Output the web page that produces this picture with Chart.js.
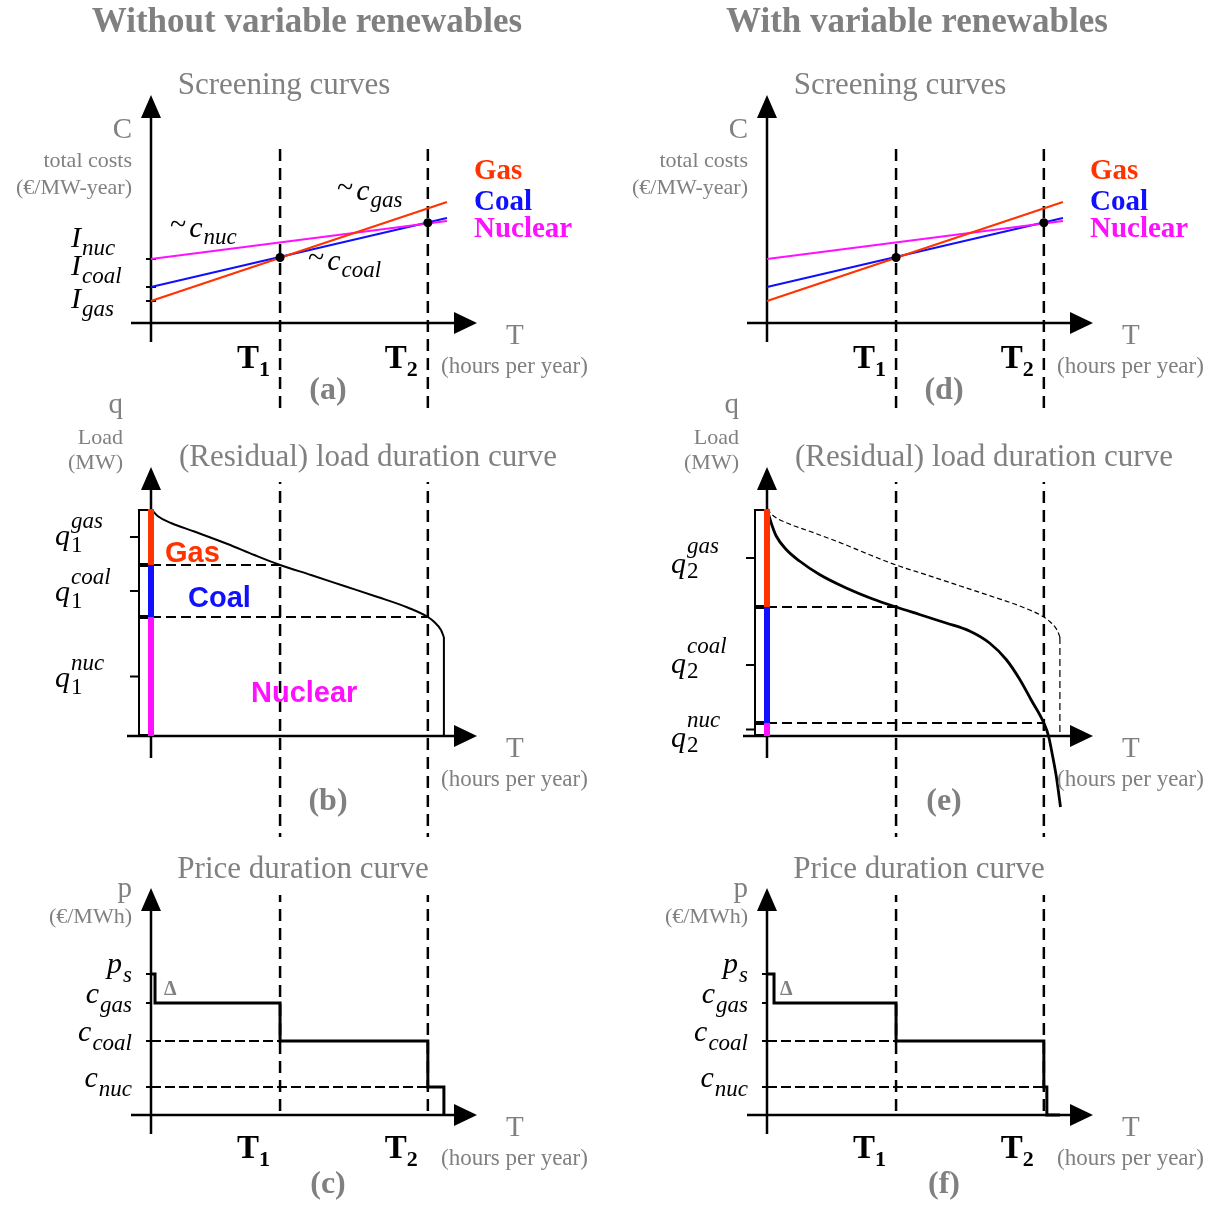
<!DOCTYPE html>
<html>
<head>
<meta charset="utf-8">
<title>Screening curves, load and price duration curves</title>
<script src="https://cdn.jsdelivr.net/npm/chart.js@4.4.1/dist/chart.umd.min.js"></script>
<style>
  html, body { margin: 0; padding: 0; background: #fff; }
  #page { position: relative; width: 1216px; height: 1205px; overflow: hidden; }
  #page canvas { position: absolute; top: 0; }
</style>
</head>
<body>
<div id="page">
  <canvas id="a" width="600" height="1205" style="left:0"></canvas>
  <canvas id="b" width="600" height="1205" style="left:0"></canvas>
  <canvas id="c" width="600" height="1205" style="left:0"></canvas>
  <canvas id="d" width="600" height="1205" style="left:616px"></canvas>
  <canvas id="e" width="600" height="1205" style="left:616px"></canvas>
  <canvas id="f" width="600" height="1205" style="left:616px"></canvas>
</div>
<script>
const T1 = 3860;
const T2 = 8280;
const YEAR = 8760;
const T_AXIS_MAX = 9750;

// screening curves (total cost at the two ends of each line)
const screenT = [0, 8850];
const costGas = [22, 121];
const costCoal = [36, 105];
const costNuc = [64, 102];
const crossT = [3860, 8280];
const crossCost = [65.5, 100.2];

// load duration curve, no renewables
const loadT = [0, 197, 598, 1295, 2291, 3089, 3860, 4785, 5781, 6777, 7674, 8280, 8473, 8673, 8760];
const load = [227, 220, 213, 204.5, 192, 181, 171, 161, 150, 139, 128.5, 119, 114, 106, 99];
const loadSplit1 = [171, 119];

// residual load duration curve, with renewables
const resT = [0, 156, 275, 574, 972, 1570, 2369, 3164, 3860, 4561, 5359, 6056, 6655, 7154, 7552, 7902, 8280, 8420, 8530, 8660, 8778];
const resLoad = [227, 210, 200, 186.5, 175, 161.5, 148, 137, 129, 121.5, 113, 105, 93, 76.5, 57, 36, 13, 0, -18, -42, -71];
const loadSplit2 = [129, 13];

// price duration curves: p_s, c_gas, c_coal, c_nuc
const priceLevels = [141, 112, 74, 28];
const priceT1 = [0, 120, T1, T2, YEAR];
const price1 = [141, 112, 74, 28, 0];
const priceT2 = [0, 210, T1, T2, 8370, YEAR];
const price2 = [141, 112, 74, 28, 0, 0];

const GRAY = '#808080';
const SERIF = '"Liberation Serif", "Times New Roman", serif';
const SANS = '"Liberation Sans", Arial, sans-serif';
const RED = '#ff3300', BLUE = '#1010ff', MAGENTA = '#ff10ff';

function pts(xs, ys) { return xs.map((x, i) => ({ x: x, y: ys[i] })); }

function line(data, color, width, extra) {
    return Object.assign({
        data: data, borderColor: color, borderWidth: width, pointRadius: 0,
        fill: false, tension: 0, clip: false, borderCapStyle: 'butt'
    }, extra || {});
}

function text(ctx, s, x, y, font, color, align) {
    ctx.font = font;
    ctx.fillStyle = color;
    ctx.textAlign = align || 'left';
    ctx.textBaseline = 'alphabetic';
    ctx.fillText(s, x, y);
}

// symbol with sub/superscript, e.g. q_1^gas
function symbol(ctx, m, x, y, align) {
    const baseFont = 'italic 30px ' + SERIF;
    const small = s => (/^\d+$/.test(s) ? '' : 'italic ') + '23px ' + SERIF;
    ctx.font = '30px ' + SERIF;
    const preW = m.pre ? ctx.measureText(m.pre).width + 3 : 0;
    ctx.font = baseFont;
    const baseW = ctx.measureText(m.base).width + 1;
    let idxW = 0;
    [m.sub, m.sup].forEach(s => {
        if (s) { ctx.font = small(s); idxW = Math.max(idxW, ctx.measureText(s).width); }
    });
    const x0 = align === 'right' ? x - preW - baseW - idxW : x;
    ctx.fillStyle = '#000';
    ctx.textAlign = 'left';
    ctx.textBaseline = 'alphabetic';
    if (m.pre) { ctx.font = '30px ' + SERIF; ctx.fillText(m.pre, x0, y - 3); }
    ctx.font = baseFont;
    ctx.fillText(m.base, x0 + preW, y);
    if (m.sub) { ctx.font = small(m.sub); ctx.fillText(m.sub, x0 + preW + baseW, y + (m.subDy || 8)); }
    if (m.sup) { ctx.font = small(m.sup); ctx.fillText(m.sup, x0 + preW + baseW, y - (m.supDy || 17)); }
}

function origin(chart) {
    return { ox: chart.scales.x.getPixelForValue(0), oy: chart.scales.y.getPixelForValue(0) };
}

function drawAxes(chart, yExt, xExt) {
    const { ctx, chartArea: a } = chart;
    const { ox, oy } = origin(chart);
    ctx.save();
    ctx.strokeStyle = '#000';
    ctx.fillStyle = '#000';
    ctx.lineWidth = 2.5;
    ctx.beginPath();
    ctx.moveTo(ox, oy + yExt); ctx.lineTo(ox, a.top + 20);
    ctx.moveTo(ox - xExt, oy); ctx.lineTo(a.right - 20, oy);
    ctx.stroke();
    ctx.beginPath();
    ctx.moveTo(ox, a.top); ctx.lineTo(ox - 10, a.top + 23); ctx.lineTo(ox + 10, a.top + 23); ctx.closePath();
    ctx.moveTo(a.right, oy); ctx.lineTo(a.right - 23, oy - 11); ctx.lineTo(a.right - 23, oy + 11); ctx.closePath();
    ctx.fill();
    ctx.restore();
}

function yTicks(chart, values, x0, x1) {
    const { ctx, scales: { y } } = chart;
    const { ox } = origin(chart);
    ctx.save();
    ctx.strokeStyle = '#000';
    ctx.lineWidth = 2;
    ctx.beginPath();
    values.forEach(v => {
        const py = y.getPixelForValue(v);
        ctx.moveTo(ox + x0, py); ctx.lineTo(ox + x1, py);
    });
    ctx.stroke();
    ctx.restore();
}

// dashed verticals at T1 and T2 running through all three panels
function tLines(chart) {
    const { ctx, scales: { x } } = chart;
    ctx.save();
    ctx.strokeStyle = '#000';
    ctx.lineWidth = 2.5;
    ctx.setLineDash([12, 7]);
    [T1, T2].forEach(t => {
        const px = x.getPixelForValue(t);
        ctx.beginPath(); ctx.moveTo(px, 149); ctx.lineTo(px, 1115); ctx.stroke();
    });
    ctx.restore();
}

function tLabels(chart, dy) {
    const { ctx, scales: { x } } = chart;
    const { oy } = origin(chart);
    [['T', '1', T1], ['T', '2', T2]].forEach(([b, s, t]) => {
        const right = x.getPixelForValue(t) - 10;
        ctx.font = 'bold 22px ' + SERIF;
        const sw = ctx.measureText(s).width;
        ctx.font = 'bold 33px ' + SERIF;
        const bw = ctx.measureText(b).width;
        text(ctx, b, right - sw - bw, oy + dy, 'bold 33px ' + SERIF, '#000');
        text(ctx, s, right - sw, oy + dy + 8, 'bold 22px ' + SERIF, '#000');
    });
}

function axisTexts(chart, o) {
    const { ctx } = chart;
    const { ox, oy } = origin(chart);
    text(ctx, 'T', ox + 355, oy + 21, '29px ' + SERIF, GRAY);
    text(ctx, '(hours per year)', ox + 290, oy + 50, '23px ' + SERIF, GRAY);
    text(ctx, o.letter, ox + 177, oy + o.letterDy, 'bold 32px ' + SERIF, GRAY, 'center');
    text(ctx, o.qty, ox + o.qtyDx, oy + o.qtyDy, '29px ' + SERIF, GRAY, 'right');
    o.units.forEach((u, i) => text(ctx, u, ox + o.qtyDx, oy + o.unitDy[i], '22px ' + SERIF, GRAY, 'right'));
    ctx.font = '31px ' + SERIF;
    const w = ctx.measureText(o.title).width;
    if (o.titleBg) {
        ctx.fillStyle = '#fff';
        ctx.fillRect(ox + o.titleDx - w / 2 - 5, oy + o.titleBg[0], w + 10, o.titleBg[1] - o.titleBg[0]);
    }
    text(ctx, o.title, ox + o.titleDx, oy + o.titleDy, '31px ' + SERIF, GRAY, 'center');
}

function brackets(chart, segs, tickX) {
    const { ctx, scales: { y } } = chart;
    const { ox } = origin(chart);
    const mids = [];
    ctx.save();
    ctx.strokeStyle = '#000';
    ctx.lineWidth = 2;
    segs.forEach(([hi, lo]) => {
        const top = y.getPixelForValue(hi) + 1, bot = y.getPixelForValue(lo) - 1;
        const mid = (top + bot) / 2;
        ctx.beginPath();
        ctx.moveTo(ox - 3, top); ctx.lineTo(ox - 12, top); ctx.lineTo(ox - 12, bot); ctx.lineTo(ox - 3, bot);
        ctx.moveTo(ox - 12, mid); ctx.lineTo(ox + tickX, mid);
        ctx.stroke();
        mids.push(mid);
    });
    ctx.restore();
    return mids;
}

function makeChart(id, yMin, yMax, pad, datasets, before, after) {
    return new Chart(document.getElementById(id), {
        type: 'line',
        data: { datasets: datasets },
        options: {
            responsive: false,
            animation: false,
            events: [],
            layout: { padding: pad },
            plugins: { legend: { display: false }, tooltip: { enabled: false } },
            scales: {
                x: { type: 'linear', display: false, min: 0, max: T_AXIS_MAX },
                y: { type: 'linear', display: false, min: yMin, max: yMax }
            }
        },
        plugins: [{ id: 'decor', beforeDatasetsDraw: before, afterDatasetsDraw: after }]
    });
}

// ---------- screening curves ----------
function screening(id, letter, withLabels) {
    const datasets = [
        { data: pts(crossT, crossCost), showLine: false, pointRadius: 4.5, pointBackgroundColor: '#000',
          pointBorderWidth: 0, clip: false },
        line(pts(screenT, costGas), RED, 2.2),
        line(pts(screenT, costNuc), MAGENTA, 2.2),
        line(pts(screenT, costCoal), BLUE, 2.2)
    ];
    makeChart(id, 0, 228, { left: 151, right: 123, top: 95, bottom: 882 }, datasets,
        chart => {
            tLines(chart);
            drawAxes(chart, 19, 20);
            if (withLabels) yTicks(chart, [costGas[0], costCoal[0], costNuc[0]], -5, 5);
        },
        chart => {
            const { ctx, scales: { y } } = chart;
            const { ox, oy } = origin(chart);
            axisTexts(chart, {
                letter: letter, letterDy: 76, qty: 'C', qtyDx: -19, qtyDy: -185,
                units: ['total costs', '(€/MW-year)'], unitDy: [-156, -129],
                title: 'Screening curves', titleDx: 133, titleDy: -229
            });
            tLabels(chart, 45);
            text(ctx, 'Gas', ox + 323, oy - 144, 'bold 29px ' + SERIF, RED);
            text(ctx, 'Coal', ox + 323, oy - 113, 'bold 29px ' + SERIF, BLUE);
            text(ctx, 'Nuclear', ox + 323, oy - 86, 'bold 29px ' + SERIF, MAGENTA);
            if (withLabels) {
                symbol(ctx, { base: 'I', sub: 'nuc' }, ox - 80, y.getPixelForValue(costNuc[0]) - 12);
                symbol(ctx, { base: 'I', sub: 'coal' }, ox - 80, y.getPixelForValue(costCoal[0]) - 12);
                symbol(ctx, { base: 'I', sub: 'gas' }, ox - 80, y.getPixelForValue(costGas[0]) + 7);
                symbol(ctx, { pre: '~', base: 'c', sub: 'nuc', subDy: 7 }, ox + 19, oy - 86);
                symbol(ctx, { pre: '~', base: 'c', sub: 'coal', subDy: 7 }, ox + 157, oy - 53);
                symbol(ctx, { pre: '~', base: 'c', sub: 'gas', subDy: 7 }, ox + 186, oy - 123);
            }
        });
}

// ---------- (residual) load duration curves ----------
function loadPanel(id, letter, residual) {
    const curveT = residual ? resT : loadT;
    const curve = residual ? resLoad : load;
    const split = residual ? loadSplit2 : loadSplit1;
    const top = curve[0];
    const datasets = [
        line([{ x: 0, y: top }, { x: 0, y: split[0] }], RED, 6),
        line([{ x: 0, y: split[0] }, { x: 0, y: split[1] }], BLUE, 6),
        line([{ x: 0, y: split[1] }, { x: 0, y: 0 }], MAGENTA, 6),
        line(pts(curveT, curve), '#000', residual ? 2.8 : 2,
            { cubicInterpolationMode: 'monotone', capBezierPoints: false }),
        line([{ x: 0, y: split[0] }, { x: T1, y: split[0] }], '#000', 2, { borderDash: [10, 5] }),
        line([{ x: 0, y: split[1] }, { x: T2, y: split[1] }], '#000', 2, { borderDash: [10, 5] })
    ];
    const drop = [{ x: loadT[loadT.length - 1], y: load[load.length - 1] }, { x: loadT[loadT.length - 1], y: 0 }];
    if (residual) {
        datasets.push(line(pts(loadT, load), '#000', 1.2,
            { borderDash: [5, 3], cubicInterpolationMode: 'monotone', capBezierPoints: false }));
        datasets.push(line(drop, '#000', 1.2, { borderDash: [7, 4] }));
    } else {
        datasets.push(line(drop, '#000', 2));
    }
    makeChart(id, 0, 269, { left: 151, right: 123, top: 467, bottom: 469 }, datasets,
        chart => drawAxes(chart, 22, 24),
        chart => {
            const { ctx } = chart;
            const { ox, oy } = origin(chart);
            axisTexts(chart, {
                letter: letter, letterDy: 74, qty: 'q', qtyDx: -28, qtyDy: -323,
                units: ['Load', '(MW)'], unitDy: [-292, -267],
                title: '(Residual) load duration curve', titleDx: 217, titleDy: -270, titleBg: [-324, -254]
            });
            const mids = brackets(chart, [[top, split[0]], [split[0], split[1]], [split[1], 0]], -21);
            const idx = residual ? '2' : '1';
            const dy = residual ? [15, 8, 17] : [8, 10, 10];
            const supDy = residual ? 20 : 17;
            const subDy = residual ? 5 : 7;
            ['gas', 'coal', 'nuc'].forEach((s, i) =>
                symbol(ctx, { base: 'q', sub: idx, sup: s, supDy: supDy, subDy: subDy }, ox - 96, mids[i] + dy[i]));
            if (!residual) {
                text(ctx, 'Gas', ox + 14, oy - 174, 'bold 29px ' + SANS, RED);
                text(ctx, 'Coal', ox + 37, oy - 129, 'bold 29px ' + SANS, BLUE);
                text(ctx, 'Nuclear', ox + 100, oy - 34, 'bold 29px ' + SANS, MAGENTA);
            }
        });
}

// ---------- price duration curves ----------
function pricePanel(id, letter, stepT, steps) {
    const datasets = [
        line(pts(stepT, steps), '#000', 3, { stepped: true }),
        line([{ x: 0, y: priceLevels[2] }, { x: T1, y: priceLevels[2] }], '#000', 2, { borderDash: [10, 4] }),
        line([{ x: 0, y: priceLevels[3] }, { x: T2, y: priceLevels[3] }], '#000', 2, { borderDash: [10, 4] })
    ];
    makeChart(id, 0, 227, { left: 151, right: 123, top: 888, bottom: 90 }, datasets,
        chart => {
            drawAxes(chart, 19, 20);
            yTicks(chart, priceLevels, -5, 1);
        },
        chart => {
            const { ctx, scales: { y } } = chart;
            const { ox, oy } = origin(chart);
            axisTexts(chart, {
                letter: letter, letterDy: 78, qty: 'p', qtyDx: -19, qtyDy: -218,
                units: ['(€/MWh)'], unitDy: [-192],
                title: 'Price duration curve', titleDx: 152, titleDy: -237, titleBg: [-278, -220]
            });
            tLabels(chart, 43);
            const syms = [['p', 's', -1], ['c', 'gas', 0], ['c', 'coal', 0], ['c', 'nuc', 0]];
            syms.forEach(([b, s, d], i) =>
                symbol(ctx, { base: b, sub: s, subDy: 9 }, ox - 19, y.getPixelForValue(priceLevels[i]) + d, 'right'));
            text(ctx, 'Δ', ox + 13, oy - 120, 'bold 20px ' + SERIF, GRAY);
        });
}

function columnTitle(id, title, cx) {
    const cv = document.getElementById(id);
    const ctx = cv.getContext('2d');
    text(ctx, title, cx, 32, 'bold 35px ' + SERIF, GRAY, 'center');
}

screening('a', '(a)', true);
loadPanel('b', '(b)', false);
pricePanel('c', '(c)', priceT1, price1);
screening('d', '(d)', false);
loadPanel('e', '(e)', true);
pricePanel('f', '(f)', priceT2, price2);
columnTitle('a', 'Without variable renewables', 307);
columnTitle('d', 'With variable renewables', 301);
</script>
</body>
</html>
